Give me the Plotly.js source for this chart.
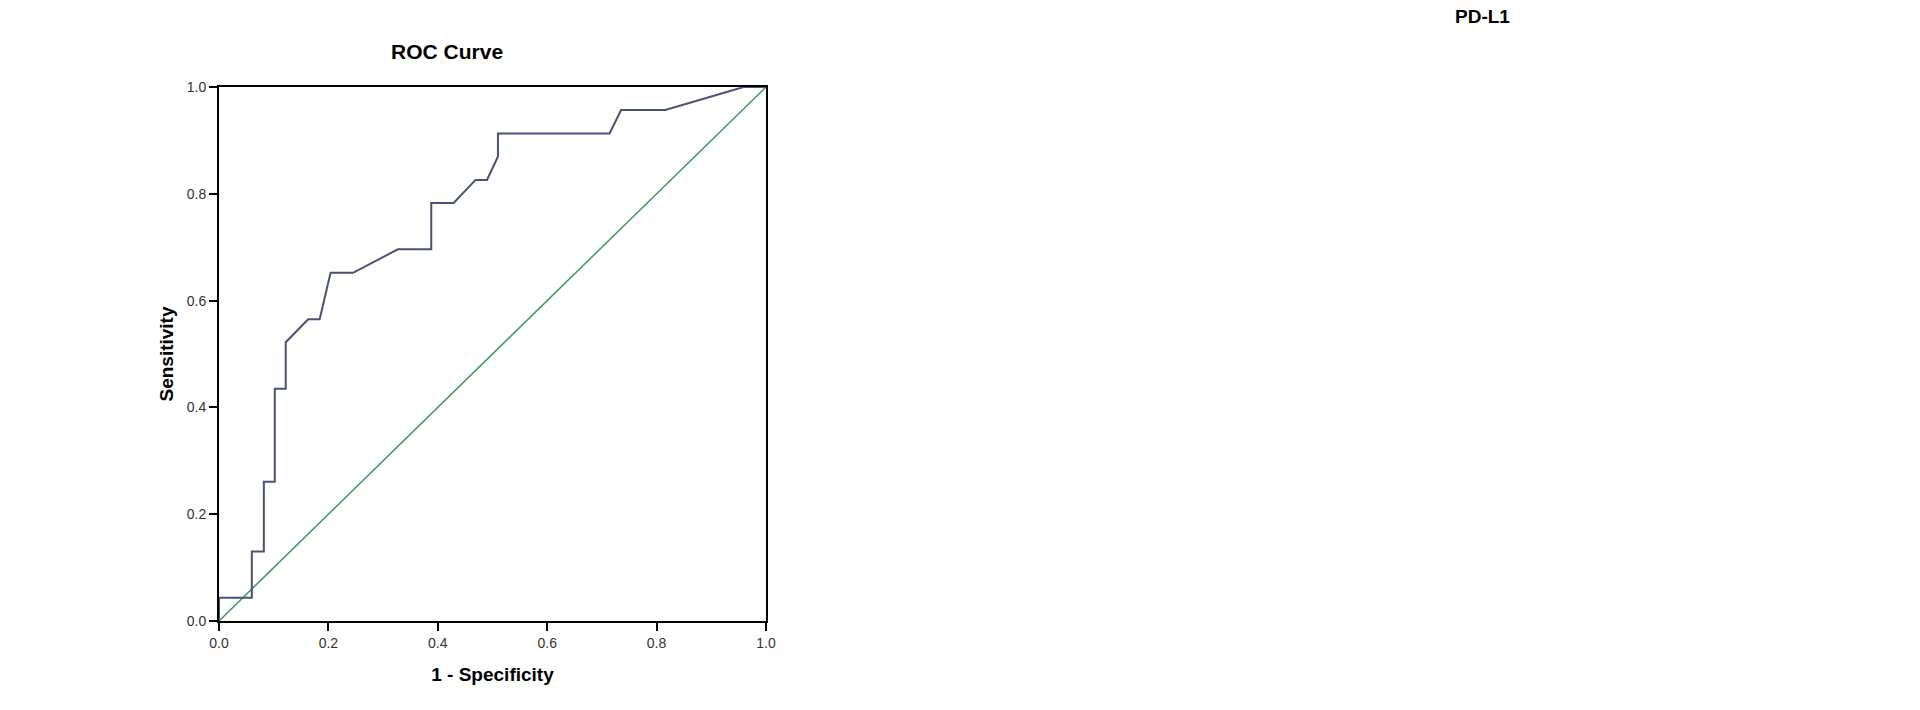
<!DOCTYPE html>
<html>
<head>
<meta charset="utf-8">
<script src="https://cdn.plot.ly/plotly-3.0.1.min.js"></script>
<style>
  html, body { margin: 0; padding: 0; background: #fff; }
  #chart { width: 1920px; height: 710px; }
</style>
</head>
<body>
<div id="chart"></div>
<script>
// ROC curve points (1 - specificity, sensitivity)
const rocX = [0, 0, 0.06, 0.06, 0.082, 0.082, 0.102, 0.102, 0.122, 0.122, 0.163, 0.184, 0.204, 0.245,
  0.327, 0.388, 0.388, 0.429, 0.469, 0.49, 0.51, 0.51, 0.714, 0.735, 0.816, 0.959, 1.0];
const rocY = [0, 0.0435, 0.0435, 0.13, 0.13, 0.261, 0.261, 0.435, 0.435, 0.522, 0.565, 0.565, 0.652, 0.652,
  0.696, 0.696, 0.783, 0.783, 0.826, 0.826, 0.870, 0.913, 0.913, 0.957, 0.957, 1.0, 1.0];

// reference line
const refX = [0, 1];
const refY = [0, 1];

const tickVals = [0, 0.2, 0.4, 0.6, 0.8, 1.0];
const tickText = ['0.0', '0.2', '0.4', '0.6', '0.8', '1.0'];

const FONT = 'Liberation Sans, Arial, sans-serif';

const traces = [
  {
    x: refX, y: refY,
    type: 'scatter', mode: 'lines',
    line: { color: '#3f9a5c', width: 1.5 },
    hoverinfo: 'skip'
  },
  {
    x: rocX, y: rocY,
    type: 'scatter', mode: 'lines',
    line: { color: '#4a5274', width: 2 },
    hoverinfo: 'skip'
  }
];

const axisCommon = {
  range: [0, 1],
  tickmode: 'array',
  tickvals: tickVals,
  ticktext: tickText,
  ticks: 'outside',
  ticklen: 8,
  tickwidth: 2,
  tickcolor: '#000',
  showgrid: false,
  zeroline: false,
  showline: true,
  linecolor: '#000',
  linewidth: 2,
  mirror: true,
  fixedrange: true,
  tickfont: { family: FONT, size: 14, color: '#333' }
};

const layout = {
  width: 1920,
  height: 710,
  showlegend: false,
  paper_bgcolor: '#fff',
  plot_bgcolor: '#fff',
  font: { family: FONT, color: '#000' },
  margin: { l: 219, r: 1154, t: 87, b: 89 },
  title: {
    text: '<b>ROC Curve</b>',
    font: { family: FONT, size: 21, color: '#000' },
    x: 0.417, xref: 'paper', xanchor: 'center',
    y: 1 - 52 / 710, yref: 'container', yanchor: 'middle'
  },
  xaxis: Object.assign({}, axisCommon, {
    title: { text: '<b>1 - Specificity</b>', font: { family: FONT, size: 19 }, standoff: 18 }
  }),
  yaxis: Object.assign({}, axisCommon, {
    title: { text: '<b>Sensitivity</b>', font: { family: FONT, size: 19 }, standoff: 8 }
  }),
  annotations: [
    {
      text: '<b>PD-L1</b>',
      xref: 'paper', yref: 'paper',
      x: (1482 - 219) / 547, y: (621 - 16) / 534,
      xanchor: 'center', yanchor: 'middle',
      showarrow: false,
      font: { family: FONT, size: 19, color: '#000' }
    }
  ]
};

Plotly.newPlot('chart', traces, layout, { displayModeBar: false, staticPlot: true });
</script>
</body>
</html>
